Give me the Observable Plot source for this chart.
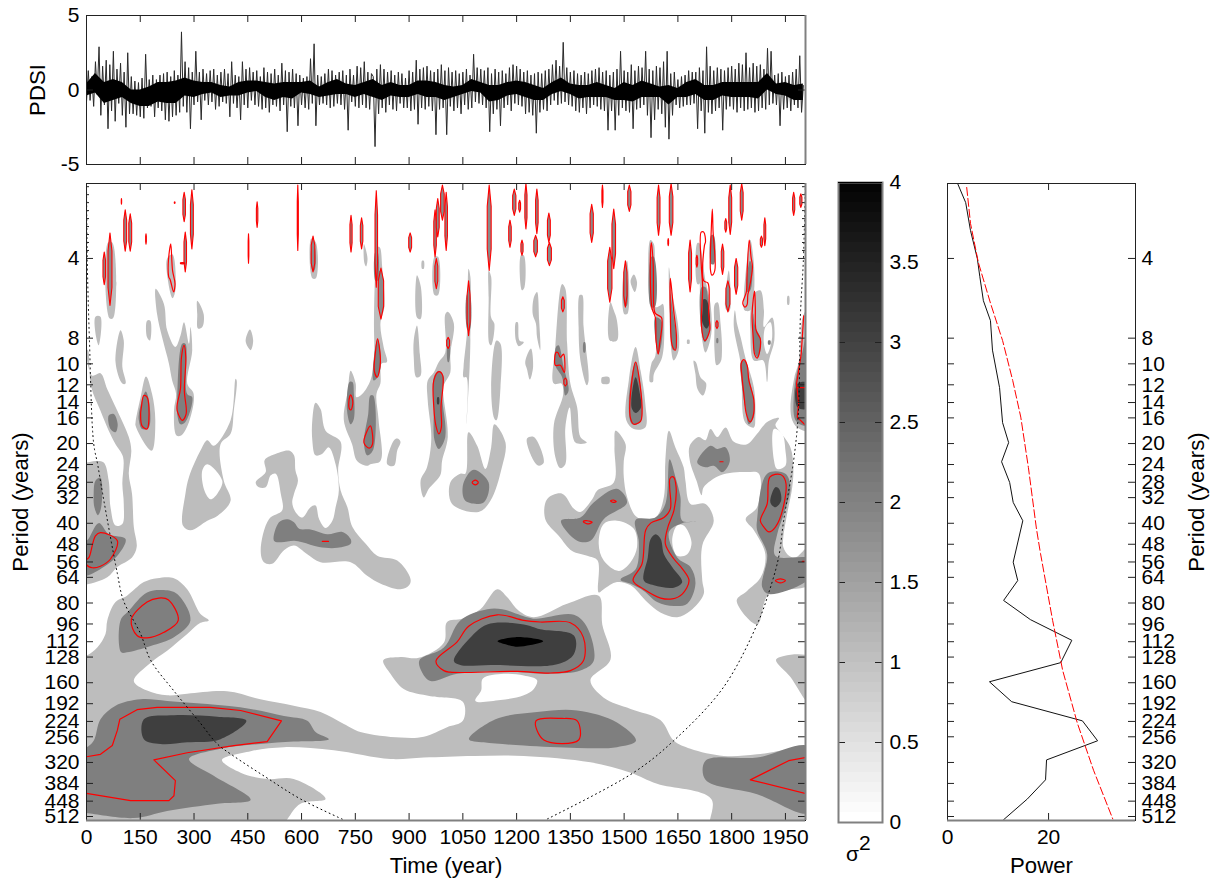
<!DOCTYPE html>
<html>
<head>
<meta charset="utf-8">
<style>
html,body{margin:0;padding:0;background:#fff}
#page{position:relative;width:1219px;height:884px;overflow:hidden;font-family:"Liberation Sans",Arial,sans-serif;color:#000}
#page>div{position:absolute}
#page g[aria-label$="-axis label"]{font-size:22.2px}
#sigma{font-size:21px;line-height:24px}
#sigma sup{font-size:21px;line-height:0;position:relative;top:-5px;vertical-align:6px}
</style>
<script src="https://cdn.jsdelivr.net/npm/d3@7"></script>
<script src="https://cdn.jsdelivr.net/npm/@observablehq/plot@0.6"></script>
</head>
<body>
<div id="page"></div>
<script>
const timeTicks=[0,150,300,450,600,750,900,1050,1200,1350,1500,1650,1800,1950];
const periodTicks=[4,8,10,12,14,16,20,24,28,32,40,48,56,64,80,96,112,128,160,192,224,256,320,384,448,512];
const minorOctaves=[1.1,1.2,1.3,1.4,1.5,1.6,1.7,1.8,1.9];
const pdsiTicks=[-5,0,5];
const sigmaTicks=[0,0.5,1,1.5,2,2.5,3,3.5,4];
const powerTicks=[0,20];
const timeEnd=2006;
const octaveTop=1.06, octaveBottom=9.05;

// PDSI extremes read at a 5-year step
const pdsi=[
-0.8,1.3,-0.7,0.9,-1.1,1.9,-0.3,2.9,-1.7,1.6,-1.0,2.0,-2.6,1.7,-1.4,2.6,-2.1,1.4,-0.9,1.8,
-1.7,1.2,-2.5,2.5,-1.6,0.9,-1.6,0.6,-1.7,0.5,-1.8,0.8,-1.9,2.4,-1.2,0.7,-1.1,1.0,-1.8,0.7,
-1.2,1.0,-1.4,1.1,-2.0,1.2,-2.1,0.9,-1.8,1.3,-1.7,1.0,-1.5,3.9,-1.1,1.9,-1.5,1.5,-2.6,1.2,
-1.0,2.6,-0.8,1.2,-2.0,1.4,-0.7,1.1,-1.0,1.3,-0.8,1.4,-1.3,1.0,-1.1,1.2,-0.8,1.4,-0.9,1.1,
-1.8,1.9,-0.9,1.0,-1.2,0.9,-2.0,1.9,-1.0,1.4,-1.2,1.5,-0.7,1.2,-1.0,1.3,-1.1,0.9,-1.3,1.5,
-1.2,1.2,-1.5,1.1,-1.0,1.4,-1.1,1.0,-1.4,1.8,-1.0,1.3,-2.8,1.2,-1.1,1.4,-1.2,1.1,-2.4,1.0,
-1.0,0.8,-1.2,0.9,-1.3,2.1,-0.9,3.1,-2.4,1.0,-1.0,0.9,-0.9,1.1,-1.0,1.4,-1.2,1.3,-1.1,1.0,
-0.9,1.2,-1.0,1.3,-1.3,1.0,-2.7,1.4,-0.8,1.0,-1.1,1.6,-1.2,1.5,-1.0,1.9,-1.2,1.2,-1.3,1.1,
0.9,-3.8,1.4,-1.6,1.7,-1.2,1.4,-1.5,1.2,-1.0,1.3,-1.3,1.0,-1.4,1.2,-0.9,1.1,-1.2,0.8,-1.2,
1.3,-1.4,1.2,-1.3,2.0,-2.3,1.4,-1.2,1.5,-1.3,1.6,-1.1,1.3,-1.4,1.2,-3.0,1.4,-1.3,1.7,-1.2,
1.3,-3.0,1.5,-1.1,1.2,-1.4,1.3,-1.2,1.1,-1.6,1.2,-1.0,1.4,-1.3,1.0,-1.2,2.4,-0.8,1.5,-0.9,
1.4,-1.0,1.3,-1.2,1.5,-2.8,1.1,-1.6,1.4,-1.3,1.2,-2.4,1.3,-1.2,1.1,-1.0,1.5,-1.4,1.7,-0.9,
1.6,-1.0,1.4,-1.1,1.2,-1.6,1.3,-1.5,1.0,-1.7,1.1,-2.9,1.2,-1.5,1.1,-1.3,1.3,-1.4,1.4,-1.0,
1.7,-0.7,2.0,-1.0,1.6,-0.9,3.2,-0.8,1.5,-1.0,1.2,-1.1,1.3,-1.4,1.1,-1.5,1.0,-1.2,1.2,-1.6,
1.1,-1.2,1.3,-1.0,1.4,-1.1,1.5,-1.3,1.2,-1.4,1.3,-2.7,1.0,-1.4,1.2,-2.7,1.4,-1.7,2.6,-1.2,
1.3,-1.4,1.2,-1.5,1.7,-2.6,1.3,-1.3,1.6,-1.2,1.5,-1.0,2.6,-1.7,1.4,-3.2,1.3,-2.0,1.6,-1.3,
1.5,-1.6,1.9,-2.5,2.6,-3.3,1.1,-1.7,1.2,-1.0,0.7,-1.2,0.9,-1.1,1.0,-1.0,1.3,-1.0,1.2,-0.9,
1.2,-2.6,1.5,-1.4,1.3,-2.9,2.9,-1.5,1.6,-1.6,1.3,-1.4,1.5,-1.2,1.4,-2.7,1.3,-1.3,1.5,-1.1,
1.6,-1.3,1.4,-1.5,1.8,-1.2,1.7,-1.4,2.5,-1.3,1.5,-1.2,1.8,-1.5,1.6,-1.4,1.7,-1.2,1.4,-1.3,
2.8,-1.0,2.6,-0.9,1.0,-1.0,1.1,-2.4,1.2,-1.3,0.9,-1.2,1.0,-1.4,1.2,-1.0,1.4,-1.2,2.3,-1.5,0.3];
// Solid core of the PDSI trace, read at a 25-year step
const pdsiCoreHigh=[.4,1.1,.5,.7,.5,.0,.0,.2,.5,.5,.6,.8,.6,.5,.5,.3,.2,.5,.6,.6,.5,.4,.5,.5,.5,.6,.2,.5,.7,.4,.3,.5,.7,.3,.5,.3,.3,.6,.6,.5,.3,.2,.3,.7,.5,.3,.3,.5,.6,.5,.3,.1,.5,.8,.4,.3,.3,.5,.3,.1,.5,.3,.6,.4,.2,.3,.1,.5,.7,.3,.3,.5,.5,.5,.5,.5,1.1,.4,.5,.3,.4];
const pdsiCoreLow=[-.4,-.2,-.9,-.7,-.5,-.9,-1.1,-1.1,-.8,-.9,-.9,-.4,-.5,-.3,-.2,-.5,-.4,-.4,-.2,-.1,-.5,-.7,-.5,-.6,-.2,-.3,-.5,-.4,-.3,-.3,-.5,-.3,-.5,-.7,-.4,-.5,-.5,-.3,-.5,-.5,-.7,-.5,-.3,-.1,-.2,-.8,-.7,-.4,-.3,-.5,-.7,-.7,-.3,-.1,-.3,-.6,-.5,-.5,-.5,-.7,-.7,-.8,-.5,-.5,-.5,-1.0,-.5,-.5,-.3,-.7,-.7,-.4,-.5,-.5,-.5,-.6,.0,-.3,-.4,-.7,-.7];

// Contour regions as flat lists: year, log2(period), year, log2(period), ...
const lightShapes=[
[0,6.98,30,6.88,53,6.71,58,6.54,81,6.31,113,6.23,160,6.06,197,6.01,244,6.01,281,6.15,318,6.46,341,6.54,318,6.57,281,6.71,225,6.92,179,7.07,132,7.30,169,7.42,225,7.48,281,7.46,392,7.43,485,7.53,578,7.61,653,7.69,718,7.84,764,7.94,876,8.01,941,8.0,1006,7.88,1050,7.80,1050,7.56,960,7.49,885,7.40,848,7.21,828,7.04,876,7.00,927,7.01,997,6.82,1006,6.56,1048,6.52,1099,6.40,1146,6.15,1174,6.25,1206,6.42,1248,6.50,1341,6.33,1429,6.23,1439,6.59,1462,7.03,1406,7.29,1443,7.51,1518,7.65,1601,7.79,1639,8.05,1685,8.15,1778,8.24,1871,8.22,2006,8.12,2020,8.12,2020,9.2,1743,9.2,1743,8.78,1592,8.59,1518,8.45,1406,8.32,1220,8.24,1080,8.24,941,8.26,848,8.28,690,8.17,551,8.13,458,8.18,378,8.29,430,8.45,504,8.53,578,8.53,667,8.78,597,8.84,518,9.2,-20,9.2,-20,6.98],
[-20,6.09,-20,4.56,0,4.56,25,4.54,48,4.56,62,4.79,67,5.12,81,5.35,100,5.33,104,5.08,100,4.83,102,4.49,81,4.33,62,4.16,39,3.91,13,3.61,4,3.15,0,3.15,16,3.47,39,3.44,58,3.64,86,3.91,118,4.24,125,4.41,118,4.70,127,4.95,132,5.37,140,5.62,127,5.75,86,5.87,58,6.0,0,6.09],
[137,4.05,151,3.74,166,3.48,183,3.70,192,4.03,183,4.41,170,4.37,137,4.10],
[193,2.38,197,2.70,211,2.99,230,3.32,239,3.53,250,3.70,244,3.91,251,4.22,264,4.22,286,4.05,299,3.70,281,3.57,295,3.15,290,2.86,286,3.07,272,2.80,262,2.97,248,3.11,225,2.90,216,2.57],
[309,2.53,327,2.70,323,2.86,311,2.88,309,2.70],
[25,2.73,39,2.73,34,3.09,27,2.99],
[169,2.78,178,2.78,177,3.03,169,2.99],
[81,3.30,95,2.90,104,3.03,100,3.36,109,3.57,100,3.57],
[444,3.04,456,2.89,465,3.03,458,3.15],
[269,5.35,276,4.95,286,4.74,318,4.41,337,4.28,355,4.35,402,4.03,416,3.51,419,3.53,411,3.91,402,4.2,374,4.33,383,4.79,402,5.04,365,5.23,337,5.29,290,5.41],
[472,4.81,500,4.68,497,4.53,523,4.46,565,4.41,579,4.47,583,4.66,590,4.79,579,4.95,574,5.06,583,5.18,602,5.25,625,5.12,639,5.10,649,5.27,667,5.38,686,5.29,695,5.12,704,4.91,695,4.58,676,4.37,658,4.45,639,4.47,630,4.28,630,4.03,639,3.81,653,3.89,667,4.16,709,4.30,702,4.66,709,4.91,728,5.12,742,5.37,779,5.58,811,5.73,867,5.79,904,6.02,900,6.10,876,6.15,821,6.08,783,5.98,737,5.81,653,5.81,616,5.71,579,5.60,551,5.66,518,5.83,495,5.81,486,5.66,509,5.27,546,5.16,542,4.95,528,4.70,514,4.72,500,4.87,481,4.87],
[839,4.58,858,4.28,867,4.26,876,4.30,867,4.41,858,4.60],
[718,4.03,729,3.66,737,3.41,751,3.57,753,3.74,769,3.70,792,3.53,802,3.28,802,2.78,806,2.11,811,1.86,818,1.86,825,2.11,831,2.61,820,2.82,829,3.11,838,3.30,823,3.32,820,3.57,809,3.70,815,4.03,820,4.54,792,4.58,783,4.60,755,4.54,741,4.33],
[922,2.21,933,2.36,932,2.76,922,2.74],
[936,2.03,941,2.03,941,2.13,936,2.13],
[913,3.03,922,2.84,930,3.20,932,3.47,920,3.49,913,3.24],
[932,4.79,950,4.62,962,4.26,952,3.78,952,3.53,969,3.43,983,3.30,1001,3.18,1001,2.70,1008,2.67,1025,2.82,1015,3.20,1015,3.43,1001,3.55,995,3.62,1008,4.24,992,4.54,987,4.72,955,4.89,941,5.0],
[1052,3.36,1062,2.90,1066,2.13,1071,2.23,1071,3.03,1069,3.36,1060,4.10,1060,4.08,1060,3.49,1052,3.49],
[1122,2.15,1129,2.23,1129,2.74,1138,2.82,1129,3.09,1124,3.07,1122,2.49],
[1129,3.62,1144,3.03,1155,3.07,1155,3.62,1144,4.03,1138,4.01],
[1015,4.81,1043,4.70,1057,4.70,1066,4.18,1090,4.35,1113,4.64,1129,4.37,1138,4.08,1169,4.31,1159,4.62,1127,5.04,1094,5.18,1020,5.08],
[1229,4.26,1248,4.24,1276,4.56,1262,4.60,1248,4.54],
[1212,1.96,1220,1.96,1222,2.36,1215,2.40],
[1198,2.80,1203,2.80,1208,3.03,1220,3.05,1206,3.10,1198,3.03],
[1248,2.49,1257,2.42,1263,2.78,1266,3.15,1257,2.99,1254,2.82,1245,2.70],
[1224,3.30,1240,3.13,1246,3.36,1237,3.52,1229,3.39],
[1304,3.57,1308,3.11,1327,2.32,1336,2.38,1341,3.07,1350,3.57,1369,3.87,1378,4.24,1396,4.31,1364,4.31,1348,3.87,1336,4.12,1336,4.58,1322,4.63,1308,4.49,1304,4.08,1330,3.70,1325,3.57],
[1376,2.46,1383,2.46,1387,2.86,1401,3.53,1396,3.59,1378,3.28,1373,2.86],
[1443,3.49,1458,3.49,1458,3.57,1443,3.57],
[1438,3.49,1450,3.49,1450,3.57,1438,3.57],
[971,1.98,981,1.98,981,2.46,971,2.46],
[1462,2.55,1460,3.03,1480,3.03,1480,2.78,1471,2.65],
[1496,2.28,1508,2.03,1510,2.69,1501,2.70],
[1518,2.28,1527,2.20,1536,2.30,1530,2.42,1522,2.36],
[1572,3.55,1576,3.32,1587,3.22,1587,2.70,1575,2.63,1573,1.77,1583,1.82,1587,2.61,1601,2.59,1608,2.57,1612,2.82,1606,3.24,1583,3.45,1580,3.55],
[1625,2.11,1634,2.44,1650,2.82,1652,3.15,1638,3.28,1629,3.03,1627,2.70],
[1676,3.02,1682,3.02,1682,3.07,1676,3.07],
[1694,3.28,1700,3.30,1713,3.49,1729,3.57,1720,3.72,1705,3.64,1699,3.45],
[1704,1.81,1710,1.81,1710,2.32,1704,2.32],
[1713,1.86,1727,2.28,1741,2.57,1743,2.95,1727,3.18,1718,3.03,1711,2.28],
[1752,2.88,1753,2.57,1761,2.55,1769,2.82,1773,3.15,1769,3.30,1758,3.34,1752,3.15],
[1783,2.44,1792,2.15,1797,2.61,1792,2.67,1783,2.63],
[1806,2.86,1809,2.65,1815,2.82,1825,2.99,1838,3.24,1862,3.62,1866,3.99,1862,4.12,1838,4.06,1826,3.34],
[1838,2.23,1852,1.77,1862,2.07,1862,2.44,1852,2.65,1836,2.65,1834,2.49],
[1852,2.69,1862,2.44,1880,2.40,1890,2.65,1890,2.86,1913,2.74,1919,3.03,1904,3.28,1899,3.55,1888,3.28,1862,3.28,1852,2.90],
[1956,2.47,1960,2.47,1960,2.58,1956,2.58],
[1964,3.87,1975,3.49,1987,3.30,2001,2.70,2020,2.61,2020,4.16,1983,4.12,1969,4.03],
[1506,4.03,1513,3.53,1532,3.11,1546,3.41,1559,3.82,1559,4.12,1527,4.14],
[1280,5.27,1285,5.02,1327,4.95,1360,5.14,1378,5.18,1411,5.02,1425,4.91,1471,4.81,1473,4.37,1476,4.16,1504,4.33,1499,4.54,1499,4.74,1508,4.99,1532,5.23,1564,5.29,1592,5.23,1611,4.99,1615,4.54,1625,4.16,1643,4.37,1666,4.62,1671,4.79,1685,5.08,1727,5.08,1750,5.29,1718,5.60,1718,6.04,1722,6.21,1685,6.42,1648,6.50,1601,6.44,1564,6.31,1518,6.10,1480,6.06,1443,6.15,1429,6.19,1426,5.79,1397,5.73,1355,5.67,1318,5.48],
[1683,4.35,1708,4.24,1727,4.28,1741,4.14,1760,4.24,1783,4.12,1806,4.30,1843,4.33,1871,4.20,1899,4.05,1932,4.00,1922,4.09,1936,4.18,1964,4.37,1972,4.62,1969,4.87,1955,5.20,1944,5.50,1944,5.62,1960,5.73,1978,5.75,2020,5.60,2020,6.08,1904,6.21,1871,6.59,1814,6.29,1843,6.17,1881,6.0,1894,5.71,1862,5.41,1839,5.27,1871,5.12,1876,4.70,1843,4.68,1769,4.72,1722,4.87,1716,4.97,1702,4.79,1683,4.53],
[1924,7.03,2020,7.0,2020,7.6,1964,7.25],
[225,2.0,240,1.95,248,2.4,240,2.5,228,2.3],
[60,1.8,72,1.8,74,2.75,64,2.75],
[74,2.2,83,2.3,80,2.38,75,2.35],
[627,1.75,640,1.8,640,2.25,630,2.25],
[774,1.82,784,2.0,780,2.1,775,2.05]
];
const whiteHoles=[
[323,4.66,337,4.58,379,4.79,365,4.95,346,5.02,329,4.91],
[621,4.79,635,4.74,639,4.89,630,4.87],
[1106,7.27,1164,7.21,1220,7.23,1257,7.29,1248,7.40,1220,7.48,1155,7.54,1085,7.55,1101,7.42],
[1429,5.58,1443,5.33,1480,5.29,1527,5.39,1536,5.62,1518,5.81,1485,5.92,1443,5.79],
[1634,5.54,1648,5.35,1666,5.35,1688,5.56,1676,5.71,1648,5.73],
[1918,4.14,1941,4.20,1950,4.41,1950,4.60,1927,4.64,1918,4.53],
[1894,2.86,1908,2.80,1913,2.99,1899,3.20,1890,3.07]
];
const midShapes=[
[-20,8.13,0,8.13,20,8.05,39,7.78,81,7.61,151,7.53,225,7.55,337,7.59,458,7.65,551,7.74,616,7.80,639,7.94,676,8.03,578,8.06,485,8.09,374,8.15,286,8.28,355,8.49,458,8.79,365,8.84,225,8.93,132,9.02,0,8.96,-20,8.96],
[97,6.94,95,6.54,118,6.42,169,6.19,216,6.16,253,6.21,290,6.54,244,6.75,179,6.86,113,6.94],
[-20,5.98,-20,5.54,0,5.54,34,5.32,62,5.46,109,5.52,86,5.73,48,5.87,0,5.98],
[20,4.95,25,4.79,39,4.75,44,4.91,39,5.16,32,5.22,22,5.12],
[62,3.97,76,3.95,87,4.08,81,4.18,67,4.14],
[146,3.95,165,3.67,174,3.78,174,4.12,155,4.14,146,4.03],
[253,3.78,267,3.07,276,3.07,281,3.70,295,3.74,276,4.05,262,4.08,253,3.95],
[523,5.54,537,5.31,560,5.27,579,5.31,593,5.39,625,5.40,672,5.46,714,5.43,737,5.52,737,5.58,700,5.63,649,5.62,602,5.56,579,5.54,542,5.56],
[629,1.85,636,1.85,636,2.15,630,2.15],
[727,3.91,734,3.55,742,3.55,746,3.70,746,4.01,737,4.08],
[774,4.31,786,3.95,792,3.72,800,3.72,800,4.40,783,4.47],
[801,3.53,803,3.20,812,3.01,822,3.30,812,3.49],
[806,1.92,812,1.92,812,2.28,806,2.28],
[816,2.15,825,2.21,827,2.49,822,2.74,817,2.61],
[969,3.49,983,3.41,997,3.49,992,3.70,1001,4.24,983,4.39,971,4.28,969,3.87],
[1008,3.09,1013,3.09,1011,3.30,1008,3.30],
[1062,2.45,1069,2.45,1069,2.9,1063,2.9],
[1051,4.83,1080,4.65,1122,4.81,1108,5.06,1057,5.04],
[1310,3.11,1317,3.09,1331,3.36,1345,3.66,1336,3.72,1327,3.49,1308,3.34],
[1387,3.05,1391,3.05,1391,3.18,1387,3.18],
[1499,2.28,1506,2.23,1508,2.59,1502,2.60],
[1576,1.98,1583,1.98,1586,2.61,1575,2.61],
[1587,2.74,1604,2.78,1604,3.07,1595,3.20,1589,3.07],
[1629,2.44,1636,2.67,1646,2.99,1646,3.13,1637,3.15,1629,2.78],
[1716,2.36,1727,2.36,1736,2.65,1739,2.90,1725,3.05,1715,2.88],
[1743,1.71,1750,1.71,1751,2.07,1743,2.07],
[1758,3.0,1762,3.0,1762,3.06,1758,3.06],
[1826,3.30,1838,3.28,1848,3.49,1862,3.78,1862,3.99,1848,4.08,1838,3.87,1827,3.53],
[1841,2.32,1851,2.03,1857,2.11,1852,2.40,1843,2.42],
[1860,2.69,1866,2.86,1880,2.99,1882,3.11,1873,3.24,1862,3.15,1859,2.90],
[1902,3.03,1908,3.03,1908,3.08,1902,3.08],
[2020,2.72,1996,3.20,1983,3.41,1973,3.74,1978,4.03,2001,4.10,2020,4.10],
[1513,3.78,1532,3.30,1544,3.53,1550,3.87,1546,4.05,1522,4.08],
[929,7.04,997,6.88,1043,6.54,1118,6.40,1160,6.40,1229,6.50,1253,6.52,1360,6.47,1397,6.63,1415,7.05,1378,7.17,1294,7.21,1155,7.18,1034,7.21,960,7.30,936,7.19],
[1067,8.03,1141,7.78,1257,7.69,1369,7.67,1480,7.82,1533,8.05,1480,8.13,1369,8.14,1220,8.11,1108,8.07],
[1727,8.30,1871,8.26,2020,8.13,2020,8.95,1871,8.72,1727,8.54],
[1324,5.29,1378,5.25,1415,5.06,1480,4.89,1508,5.06,1443,5.27,1406,5.54,1369,5.54],
[1490,6.03,1532,5.9,1541,5.56,1532,5.28,1587,5.25,1615,5.08,1627,4.52,1643,4.74,1657,4.99,1662,5.29,1702,5.30,1662,5.32,1625,5.43,1648,5.75,1685,5.87,1699,6.08,1676,6.33,1639,6.36,1592,6.31,1555,6.17,1518,6.08],
[1704,4.56,1741,4.35,1760,4.39,1783,4.37,1795,4.54,1774,4.68,1750,4.60,1727,4.62],
[1871,5.27,1899,4.70,1950,4.70,1964,4.87,1946,5.20,1927,5.46,1922,5.73,2020,5.77,2020,6.0,1904,6.21,1885,6.12,1899,5.71,1871,5.41]
];
const darkShapes=[
[160,7.78,244,7.73,365,7.75,446,7.80,374,8.03,281,8.07,206,8.09,160,8.03],
[979,3.74,983,3.74,983,3.83,979,3.83],
[1520,3.78,1532,3.49,1544,3.70,1547,3.87,1532,3.94,1522,3.89],
[1722,2.51,1730,2.52,1739,2.80,1730,2.88,1718,2.80,1719,2.65],
[1984,3.57,2020,3.57,2020,3.87,1984,3.87],
[1025,7.05,1062,6.80,1118,6.59,1220,6.59,1266,6.65,1360,6.73,1360,6.96,1313,7.09,1127,7.10,1043,7.10],
[1555,6.04,1566,5.75,1574,5.52,1588,5.46,1602,5.52,1611,5.71,1634,5.87,1662,6.06,1639,6.13,1583,6.10],
[1908,5.06,1922,4.87,1932,4.89,1938,5.04,1922,5.12]
];
const blackShapes=[
[1147,6.80,1197,6.75,1274,6.80,1239,6.85,1197,6.87,1169,6.84]
];
// Red significance contours: closed loops
const redLoops=[
[125,6.53,169,6.31,202,6.26,228,6.28,256,6.54,216,6.69,169,6.76,141,6.73],
[0,5.78,7,5.75,25,5.48,39,5.44,86,5.54,67,5.77,39,5.86,16,5.88,0,5.84],
[153,3.87,160,3.72,169,3.74,174,4.03,169,4.14,155,4.10,151,3.95],
[253,3.83,262,3.64,265,3.24,272,3.09,277,3.24,273,3.66,278,3.95,267,4.03,253,3.91],
[732,3.80,737,3.71,743,3.80,738,3.90,734,3.89],
[774,4.31,792,4.10,798,4.33,789,4.38],
[806,3.18,812,3.01,820,3.30,811,3.49,803,3.41],
[228,2.07,235,1.82,240,2.15,247,2.32,243,2.42,233,2.26,230,2.24],
[969,3.53,983,3.42,994,3.47,989,3.87,990,4.12,983,4.20,975,4.10,969,3.87],
[1310,3.18,1315,3.18,1322,3.24,1331,3.20,1333,3.43,1322,3.34,1308,3.34],
[1576,1.80,1581,2.07,1583,2.61,1587,2.69,1604,2.74,1606,2.82,1599,3.07,1595,3.20,1589,3.03,1587,2.74,1578,2.63,1573,2.19],
[1629,2.25,1638,2.65,1646,2.99,1643,3.15,1634,3.09,1629,2.69],
[1715,1.67,1722,1.67,1727,1.79,1724,1.84,1722,2.28,1734,2.31,1736,2.70,1739,2.90,1725,3.03,1716,2.86,1719,2.36,1715,2.07],
[1746,1.38,1748,1.65,1753,2.15,1745,2.21,1741,2.15,1743,1.65],
[1849,1.77,1854,1.98,1858,2.11,1848,2.40,1845,2.46,1843,2.58,1837,2.61,1831,2.56,1841,2.42,1843,2.19],
[1864,2.41,1866,2.61,1868,2.90,1880,3.01,1880,3.11,1871,3.25,1864,3.20,1860,2.99,1857,2.69],
[1516,3.80,1532,3.30,1544,3.57,1550,3.95,1546,4.04,1527,4.08,1518,4.01],
[1827,3.31,1834,3.27,1843,3.34,1848,3.53,1862,3.78,1859,3.99,1851,4.05,1841,3.95,1834,3.70,1829,3.49],
[975,7.05,1034,6.81,1067,6.61,1146,6.47,1220,6.54,1266,6.56,1350,6.57,1386,6.75,1386,7.05,1350,7.17,1294,7.20,1201,7.18,1015,7.19,997,7.17],
[1254,7.80,1327,7.77,1369,7.80,1373,8.04,1276,8.04],
[1076,4.81,1085,4.78,1093,4.81,1085,4.84],
[1386,5.30,1397,5.29,1411,5.31,1397,5.33],
[1462,5.04,1470,5.03,1478,5.05,1470,5.06],
[1525,6.04,1550,5.83,1560,5.41,1574,5.32,1611,5.25,1629,5.14,1627,4.87,1628,4.76,1637,4.74,1645,4.87,1639,5.16,1622,5.37,1615,5.58,1639,5.77,1662,5.89,1681,6.04,1662,6.21,1634,6.27,1602,6.26,1555,6.15],
[1880,5.29,1899,5.08,1907,4.74,1936,4.71,1950,4.79,1946,5.08,1922,5.37,1904,5.43,1890,5.37],
[1922,6.04,1936,6.02,1950,6.04,1936,6.07]
];
// Red contours that run off the panel edge
const redOpen=[
[0,8.25,39,8.22,72,8.11,86,7.92,93,7.78,141,7.66,197,7.63,346,7.63,430,7.67,544,7.80,504,8.06,411,8.11,281,8.20,188,8.29,248,8.55,244,8.74,230,8.80,123,8.80,0,8.71],
[2006,8.26,1959,8.30,1852,8.54,2006,8.71],
[2001,2.72,1994,3.20,1984,3.49,1981,3.57,1987,3.82,1983,3.99,2003,4.08],
[1983,3.62,2006,3.62],
[658,5.55,675,5.55],
[1767,4.55,1776,4.55],
[1997,5.80,2006,5.80]
];
// Narrow red contours: year start, year end, log2(period) top, log2(period) bottom
const redSpikes=[
[97,98,1.25,1.32],[104,112,1.39,1.91],[118,126,1.44,1.91],[165,167,1.69,1.82],[46,53,1.92,2.33],[60,71,1.68,2.59],
[269,276,1.17,1.54],[290,298,1.14,1.88],[272,279,1.67,2.17],[262,274,2.05,2.07],[245,247,1.29,1.31],[474,478,1.29,1.61],
[451,453,1.69,2.06],[588,591,1.08,1.90],[627,637,1.72,2.17],[735,741,1.46,1.92],[764,771,1.49,1.88],[805,812,1.15,2.36],[814,829,2.12,2.76],
[899,907,1.68,1.92],[969,976,1.39,1.98],[976,984,1.25,1.73],[988,998,1.08,1.52],[1000,1007,1.17,1.90],[972,980,2.0,2.38],
[1062,1070,2.28,2.97],[1118,1129,1.08,2.15],[1189,1198,1.13,1.46],[1206,1211,1.27,1.42],[1178,1185,1.52,1.86],[1223,1229,1.06,1.63],
[1253,1260,1.13,1.69],[1248,1258,1.71,1.98],[1212,1218,1.77,1.96],[1286,1294,1.43,1.80],[1286,1297,1.80,2.09],[1405,1414,1.32,1.80],
[1438,1441,1.08,1.36],[1325,1333,2.48,2.67],[1005,1013,2.99,3.13],[1332,1340,3.5,3.6],[1454,1466,1.86,2.55],[1466,1476,1.38,2.13],
[1499,1508,2.03,2.61],[1510,1519,1.08,1.41],[1592,1600,1.08,1.71],[1626,1636,1.06,1.71],[1622,1624,1.75,1.84],[1680,1688,1.77,2.42],
[1701,1705,1.96,2.11],[1756,1762,2.78,2.88],[1771,1778,1.82,2.20],[1781,1786,1.50,1.67],[1792,1800,1.08,1.70],[1824,1832,1.06,1.52],
[1808,1817,2.0,2.45],[1784,1795,2.28,2.67],[1880,1886,1.72,1.86],[1890,1895,1.49,1.84],[1970,1976,1.17,1.46],[1990,1996,1.19,1.36]
];
// Cone of influence
const coneLeft=[0,1.06,2,2,8,3,20,4.32,31,4.58,45,4.95,86,5.95,103,6.29,151,6.71,179,7.04,243,7.42,318,7.83,365,8.09,410,8.24,505,8.52,597,8.78,717,9.04];
const coneRight=[1286,9.03,1526,8.45,1638,8.05,1777,7.38,1872,6.58,1903,6.20,1931,5.75,1945,5.29,1973,4.53,1986,3.94,1992,2.69,2000,2.03,2006,1.06];
// Global spectrum: power, log2(period)
const powerCurve=[2.0,1.06,3.6,1.30,4.55,1.65,5.9,2.0,6.4,2.23,7.1,2.53,8.5,2.78,8.9,3.15,10.3,3.62,10.9,4.06,12.1,4.31,10.7,4.55,12.3,4.81,13,5.06,14.9,5.29,13,5.81,13.9,6.04,11.1,6.29,16.4,6.53,24.6,6.79,22.4,7.07,8.3,7.31,12.7,7.56,26.7,7.80,29.7,8.05,19.6,8.29,19.4,8.54,15.8,8.78,11.1,9.04];
const powerSignificance=[3.8,1.11,4.55,1.56,6.1,2.05,8.5,2.56,10.9,3.03,12.9,3.53,14.5,3.99,16,4.62,17.6,5.39,18.4,5.70,20.8,6.54,22.8,7.17,25.7,7.83,28.9,8.42,32.7,9.03];

const FONT=21, INK="#222", EDGE="#808080";
const pairs=flat=>d3.range(0,flat.length,2).map(i=>({a:flat[i],o:flat[i+1]}));
const toRows=shapes=>shapes.flatMap((flat,id)=>pairs(flat).map(d=>({...d,id})));
const spikeRows=redSpikes.flatMap(([t0,t1,o0,o1],id)=>{
  const tm=(t0+t1)/2,d=(o1-o0)/4;
  return [[tm,o0],[t1,o0+d],[t1,o1-d],[tm,o1],[t0,o1-d],[t0,o0+d]].map(([a,o])=>({a,o,id}));
});
const periodOf=d=>2**d.o;
const region=(shapes,fill,curve="catmull-rom-closed")=>Plot.line(toRows(shapes),{x:"a",y:periodOf,z:"id",fill,stroke:"none",curve,clip:true});
const mount=(left,top,svg)=>{const w=document.createElement("div");w.style.left=left+"px";w.style.top=top+"px";w.append(svg);document.getElementById("page").append(w);return w;};
const baseStyle={background:"transparent",fontFamily:'"Liberation Sans",Arial,sans-serif',fontSize:FONT+"px",color:"#000",overflow:"visible"};
const fmt=d=>String(d);
const TL=7;

// PDSI panel
const pW=719,pH=149;
mount(0,0,Plot.plot({
  width:820,height:180,marginLeft:86,marginRight:15,marginTop:15,marginBottom:16,style:baseStyle,
  x:{domain:[0,timeEnd]},y:{domain:[-5,5]},
  marks:[
    Plot.line(pdsi,{x:(d,i)=>i*5,y:d=>d,stroke:"#2a2a2a",strokeWidth:1,clip:true}),
    Plot.areaY(pdsiCoreHigh,{x:(d,i)=>i*25,y1:d=>d,y2:(d,i)=>pdsiCoreLow[i],fill:"#000",clip:true}),
    Plot.tickX(timeTicks.slice(1),{x:d=>d,insetTop:pH-TL,stroke:INK}),
    Plot.tickX(timeTicks.slice(1),{x:d=>d,insetBottom:pH-TL,stroke:INK}),
    Plot.tickY(pdsiTicks,{y:d=>d,insetLeft:pW-TL,stroke:INK}),
    Plot.tickY(pdsiTicks,{y:d=>d,insetRight:pW-TL,stroke:INK}),
    Plot.axisX({ticks:[],label:null,tickSize:0}),
    Plot.axisY(pdsiTicks,{anchor:"left",tickSize:0,tickPadding:7,tickFormat:fmt,fontSize:FONT,label:"PDSI",labelAnchor:"center",labelOffset:57,labelArrow:"none"}),
    Plot.frame({stroke:INK}),
    Plot.ruleX([timeEnd],{stroke:EDGE,strokeWidth:2})
  ]
}));

// Wavelet panel
const mW=719,mH=637;
mount(0,170,Plot.plot({
  width:820,height:690,marginLeft:86,marginRight:15,marginTop:13,marginBottom:40,style:baseStyle,
  x:{domain:[0,timeEnd]},y:{type:"log",base:2,domain:[2**octaveBottom,2**octaveTop]},
  marks:[
    region(lightShapes,"#bdbdbd"),
    region(whiteHoles,"#ffffff"),
    region(midShapes,"#7f7f7f"),
    region(darkShapes,"#3f3f3f"),
    region(blackShapes,"#000000"),
    Plot.line(spikeRows,{x:"a",y:periodOf,z:"id",fill:"#8a8a8a",stroke:"#ff0000",strokeWidth:1.1,curve:"linear-closed",clip:true}),
    Plot.line(toRows(redLoops),{x:"a",y:periodOf,z:"id",stroke:"#ff0000",strokeWidth:1.2,curve:"catmull-rom-closed",clip:true}),
    Plot.line(toRows(redOpen),{x:"a",y:periodOf,z:"id",stroke:"#ff0000",strokeWidth:1.2,clip:true}),
    Plot.line(pairs(coneLeft),{x:"a",y:periodOf,stroke:"#000",strokeWidth:1,strokeDasharray:"1,3.5",curve:"catmull-rom",clip:true}),
    Plot.line(pairs(coneRight),{x:"a",y:periodOf,stroke:"#000",strokeWidth:1,strokeDasharray:"1,3.5",curve:"catmull-rom",clip:true}),
    Plot.tickX(timeTicks.slice(1),{x:d=>d,insetTop:mH-TL,stroke:INK}),
    Plot.tickX(timeTicks.slice(1),{x:d=>d,insetBottom:mH-TL,stroke:INK}),
    Plot.tickY(periodTicks,{y:d=>d,insetLeft:mW-TL,stroke:INK}),
    Plot.tickY(periodTicks,{y:d=>d,insetRight:mW-TL,stroke:INK}),
    Plot.tickY(minorOctaves,{y:d=>2**d,insetLeft:mW-3,stroke:INK}),
    Plot.tickY(minorOctaves,{y:d=>2**d,insetRight:mW-3,stroke:INK}),
    Plot.axisX(timeTicks,{anchor:"bottom",tickSize:0,tickPadding:9,tickFormat:fmt,fontSize:FONT,label:"Time (year)",labelAnchor:"center",labelOffset:52,labelArrow:"none"}),
    Plot.axisY(periodTicks,{anchor:"left",tickSize:0,tickPadding:7,tickFormat:fmt,fontSize:FONT,label:"Period (years)",labelAnchor:"center",labelOffset:74,labelArrow:"none"}),
    Plot.frame({stroke:INK}),
    Plot.ruleX([timeEnd],{stroke:EDGE,strokeWidth:2}),
    Plot.ruleY([2**octaveBottom],{stroke:EDGE,strokeWidth:2})
  ]
}));

// Colour bar
const cW=44;
const sigmaLevels=d3.range(0,64).map(i=>({lo:i/16,hi:(i+1)/16}));
mount(820,170,Plot.plot({
  width:100,height:670,marginLeft:18,marginRight:38,marginTop:12,marginBottom:18,style:baseStyle,
  x:{domain:[0,1],axis:null},y:{domain:[0,4]},
  color:{type:"linear",domain:[0,4],range:["#ffffff","#000000"]},
  marks:[
    Plot.rect(sigmaLevels,{x1:()=>0,x2:()=>1,y1:"lo",y2:"hi",fill:"lo"}),
    Plot.tickY(sigmaTicks,{y:d=>d,insetLeft:cW-TL,stroke:INK}),
    Plot.tickY(sigmaTicks,{y:d=>d,insetRight:cW-TL,stroke:INK}),
    Plot.axisY(sigmaTicks,{anchor:"right",tickSize:0,tickPadding:7,tickFormat:fmt,fontSize:FONT,label:null}),
    Plot.frame({stroke:EDGE,strokeWidth:2}),
    Plot.ruleY([4],{stroke:"#000",strokeWidth:1})
  ]
}));
const sigma=document.createElement("div");
sigma.id="sigma";sigma.style.left="846px";sigma.style.top="842px";
sigma.innerHTML="σ<sup>2</sup>";
document.getElementById("page").append(sigma);

// Global power panel
const gW=188;
mount(930,170,Plot.plot({
  width:289,height:700,marginLeft:17,marginRight:84,marginTop:13,marginBottom:50,style:baseStyle,
  x:{domain:[0,37.2]},y:{type:"log",base:2,domain:[2**octaveBottom,2**octaveTop]},
  marks:[
    Plot.line(pairs(powerCurve),{x:"a",y:periodOf,stroke:"#111",strokeWidth:1,clip:true}),
    Plot.line(pairs(powerSignificance),{x:"a",y:periodOf,stroke:"#ff0000",strokeWidth:1,strokeDasharray:"8,3",clip:true}),
    Plot.tickX(powerTicks.slice(1),{x:d=>d,insetTop:mH-TL,stroke:INK}),
    Plot.tickX(powerTicks.slice(1),{x:d=>d,insetBottom:mH-TL,stroke:INK}),
    Plot.tickY(periodTicks,{y:d=>d,insetLeft:gW-TL,stroke:INK}),
    Plot.tickY(periodTicks,{y:d=>d,insetRight:gW-TL,stroke:INK}),
    Plot.axisX(powerTicks,{anchor:"bottom",tickSize:0,tickPadding:9,tickFormat:fmt,fontSize:FONT,label:"Power",labelAnchor:"center",labelOffset:52,labelArrow:"none"}),
    Plot.axisY(periodTicks,{anchor:"right",tickSize:0,tickPadding:6,tickFormat:fmt,fontSize:FONT,label:"Period (years)",labelAnchor:"center",labelOffset:68,labelArrow:"none"}),
    Plot.frame({stroke:INK}),
    Plot.ruleY([2**octaveBottom],{stroke:EDGE,strokeWidth:2})
  ]
}));
</script>
</body>
</html>
